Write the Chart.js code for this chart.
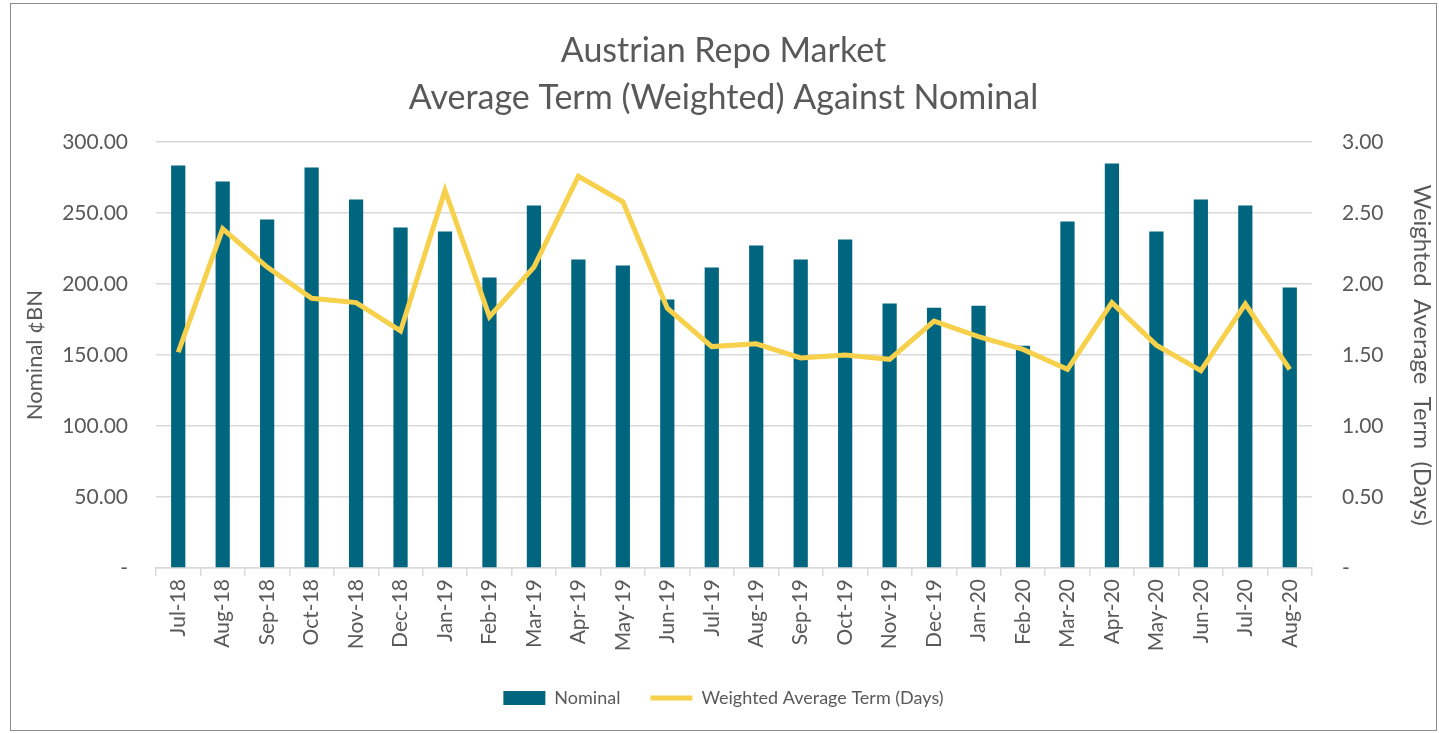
<!DOCTYPE html>
<html>
<head>
<meta charset="utf-8">
<script src="https://cdn.jsdelivr.net/npm/chart.js@4"></script>
<style>
  html, body { margin: 0; padding: 0; background: #fff; }
  #wrap {
    position: absolute; left: 10px; top: 3px; width: 1427px; height: 728px;
    border: 1px solid #8c8c8c; box-sizing: border-box;
  }
  canvas { position: absolute; left: 0; top: 0; }
</style>
</head>
<body>
<div id="wrap"><canvas id="myChart" width="1425" height="726"></canvas></div>
<script>
const months = ["Jul-18","Aug-18","Sep-18","Oct-18","Nov-18","Dec-18","Jan-19","Feb-19","Mar-19","Apr-19","May-19","Jun-19","Jul-19","Aug-19","Sep-19","Oct-19","Nov-19","Dec-19","Jan-20","Feb-20","Mar-20","Apr-20","May-20","Jun-20","Jul-20","Aug-20"];
const nominal = [283.6,272.3,245.5,282.2,259.6,239.9,237.0,204.6,255.4,217.3,213.1,189.1,211.7,227.2,217.3,231.4,186.3,183.4,184.8,156.6,244.1,285.0,237.0,259.6,255.4,197.6];
const avgTerm = [1.52,2.39,2.12,1.90,1.87,1.67,2.66,1.77,2.12,2.76,2.58,1.83,1.56,1.58,1.48,1.50,1.47,1.74,1.63,1.54,1.40,1.87,1.57,1.39,1.86,1.40];
const titleLines = ["Austrian Repo Market", "Average Term (Weighted) Against Nominal"];

const textColor = "#595959";
const fontFamily = "Lato, 'Open Sans', sans-serif";
const barColor = "#00657F";
const lineColor = "#F7D14B";

const ctx = document.getElementById("myChart").getContext("2d");
new Chart(ctx, {
  type: "bar",
  data: {
    labels: months,
    datasets: [
      {
        type: "line",
        label: "Weighted Average Term (Days)",
        data: avgTerm,
        yAxisID: "y1",
        borderColor: lineColor,
        backgroundColor: lineColor,
        borderWidth: 5,
        pointRadius: 0,
        tension: 0,
        fill: false,
        order: 0,
      },
      {
        label: "Nominal",
        data: nominal,
        yAxisID: "y",
        backgroundColor: barColor,
        categoryPercentage: 1,
        barPercentage: 0.32,
        order: 1,
      },
    ],
  },
  options: {
    responsive: false,
    animation: false,
    layout: { padding: { left: 0, right: 0, top: 23, bottom: 13 } },
    plugins: {
      title: {
        display: true,
        text: titleLines,
        color: textColor,
        font: { family: fontFamily, size: 34, weight: "normal", lineHeight: 1.4 },
        padding: { top: 0, bottom: 20 },
      },
      legend: {
        position: "bottom",
        reverse: true,
        labels: {
          color: textColor,
          font: { family: fontFamily, size: 18 },
          usePointStyle: true,
          pointStyleWidth: 42,
          boxHeight: 14,
          padding: 30,
          generateLabels: (chart) => {
            const items = Chart.defaults.plugins.legend.labels.generateLabels(chart);
            items.forEach((it) => {
              if (it.text === "Nominal") {
                it.pointStyle = "rect";
                it.lineWidth = 0;
                it.fillStyle = barColor;
                it.strokeStyle = barColor;
              } else {
                it.pointStyle = "line";
                it.lineWidth = 5;
                it.strokeStyle = lineColor;
              }
            });
            return items;
          },
        },
      },
      tooltip: { enabled: false },
    },
    scales: {
      x: {
        offset: true,
        grid: {
          offset: true,
          drawOnChartArea: false,
          drawTicks: true,
          tickLength: 8,
          color: "#d9d9d9",
          lineWidth: 1.5,
        },
        border: { color: "#d9d9d9", width: 1.5 },
        ticks: {
          color: textColor,
          font: { family: fontFamily, size: 21 },
          maxRotation: 90,
          minRotation: 90,
          autoSkip: false,
        },
        afterFit: (scale) => { scale.height = 91; },
      },
      y: {
        position: "left",
        min: 0,
        max: 300,
        title: {
          display: true,
          text: "Nominal \u00A2BN",
          color: textColor,
          font: { family: fontFamily, size: 22 },
          padding: { top: 11, bottom: 0 },
        },
        grid: { color: "#d9d9d9", lineWidth: 1.5, drawTicks: false },
        border: { display: false },
        ticks: {
          stepSize: 50,
          color: textColor,
          padding: 28,
          font: { family: fontFamily, size: 21 },
          callback: (v) => (v === 0 ? "-" : v.toFixed(2)),
        },
        afterFit: (scale) => { scale.width = 145; },
      },
      y1: {
        position: "right",
        min: 0,
        max: 3,
        title: {
          display: true,
          text: "Weighted  Average  Term  (Days)",
          color: textColor,
          font: { family: fontFamily, size: 24 },
          padding: { top: 0, bottom: 11 },
        },
        grid: { drawOnChartArea: false, drawTicks: false },
        border: { display: false },
        ticks: {
          stepSize: 0.5,
          color: textColor,
          padding: 30,
          font: { family: fontFamily, size: 21 },
          callback: (v) => (v === 0 ? "-" : v.toFixed(2)),
        },
        afterFit: (scale) => { scale.width = 124; },
      },
    },
  },
});
</script>
</body>
</html>
